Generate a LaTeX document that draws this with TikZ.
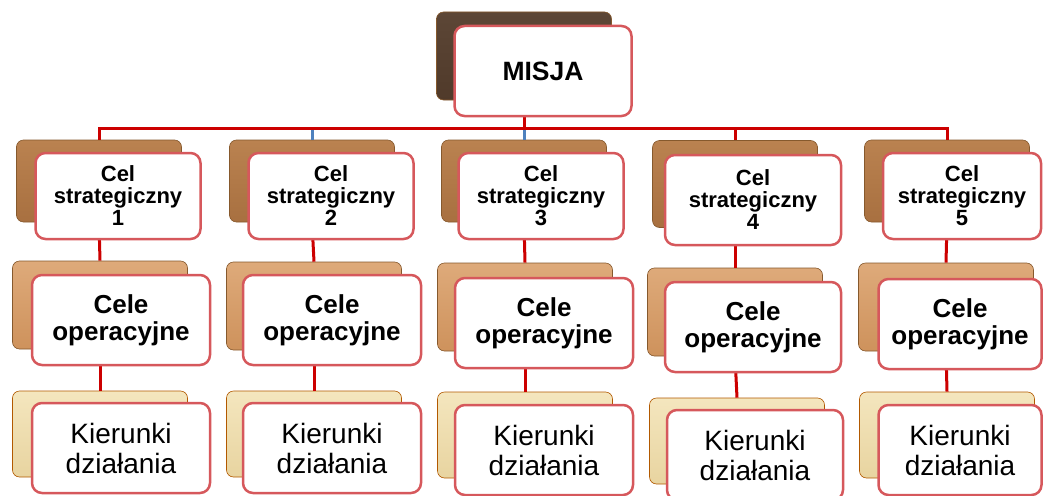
\documentclass[tikz,border=0pt]{standalone}
\usepackage{fontspec}
\setmainfont{Liberation Sans}
\usetikzlibrary{positioning,calc}

\definecolor{linkred}{RGB}{204,0,0}
\definecolor{cardred}{RGB}{214,88,92}
\definecolor{linkblue}{RGB}{79,129,189}

\begin{document}
\begin{tikzpicture}[x=1pt,y=-1pt,
  wood/.style={rounded corners=7pt,draw=#1!70!black,line width=0.6pt},
  woodA/.style={wood=brown,top color={rgb,255:red,92;green,70;blue,54},middle color={rgb,255:red,58;green,40;blue,30},bottom color={rgb,255:red,80;green,58;blue,42},minimum width=175pt,minimum height=88pt},
  woodB/.style={wood=brown,top color={rgb,255:red,186;green,130;blue,80},middle color={rgb,255:red,130;green,82;blue,46},bottom color={rgb,255:red,168;green,112;blue,64},minimum width=165pt,minimum height=82pt},
  woodC/.style={wood=brown,top color={rgb,255:red,222;green,170;blue,122},middle color={rgb,255:red,184;green,124;blue,74},bottom color={rgb,255:red,206;green,146;blue,92},minimum width=175pt,minimum height=88pt},
  woodD/.style={wood=orange,top color={rgb,255:red,244;green,230;blue,190},middle color={rgb,255:red,218;green,192;blue,136},bottom color={rgb,255:red,232;green,212;blue,160},minimum width=175pt,minimum height=86pt},
  card/.style={draw=cardred,line width=2.5pt,fill=white,rounded corners=10pt,align=center,inner sep=0pt},
  cslev/.style={card,minimum width=165pt,minimum height=86pt,font={\fontsize{22pt}{22pt}\selectfont\bfseries}},
  colev/.style={card,minimum width=178pt,minimum height=90pt,font={\fontsize{26pt}{27pt}\selectfont\bfseries}},
  kdlev/.style={card,minimum width=178pt,minimum height=90pt,font={\fontsize{28pt}{30pt}\selectfont}},
  link/.style={draw=linkred,line width=3pt},
  bluelink/.style={draw=linkblue,line width=3pt}]
\useasboundingbox (0,0) rectangle (1043,495);

% wooden plates behind the cards
\node[woodA] (misjaS) at (524,56) {};
\node[woodB] (cs1S) at (99,181) {};
\node[woodB] (cs2S) at (312,181) {};
\node[woodB] (cs3S) at (524,181) {};
\node[woodB,minimum height=87pt] (cs4S) at (735,184) {};
\node[woodB] (cs5S) at (947,181) {};
\node[woodC] (co1S) at (100,305) {};
\node[woodC] (co2S) at (314,306) {};
\node[woodC] (co3S) at (525,307) {};
\node[woodC] (co4S) at (735,312) {};
\node[woodC] (co5S) at (946,307) {};
\node[woodD] (kd1S) at (100,434) {};
\node[woodD] (kd2S) at (314,434) {};
\node[woodD] (kd3S) at (525,435) {};
\node[woodD] (kd4S) at (737,441) {};
\node[woodD] (kd5S) at (947,435) {};

% connectors
\coordinate (bar) at (524,128);
\draw[bluelink] (bar) -- (cs3S.north);
\draw[bluelink] (bar -| cs2S.north) -- (cs2S.north);
\draw[link] (misjaS.south) -- (bar);
\draw[link] (bar) -| (cs1S.north);
\draw[link] (bar) -| (cs4S.north);
\draw[link] (bar) -| (cs5S.north);
\draw[link] (cs1S.south) -- (co1S.north);
\draw[link] (cs2S.south) -- (co2S.north);
\draw[link] (cs3S.south) -- (co3S.north);
\draw[link] (cs4S.south) -- (co4S.north);
\draw[link] (cs5S.south) -- (co5S.north);
\draw[link] (co1S.south) -- (kd1S.north);
\draw[link] (co2S.south) -- (kd2S.north);
\draw[link] (co3S.south) -- (kd3S.north);
\draw[link] (co4S.south) -- (kd4S.north);
\draw[link] (co5S.south) -- (kd5S.north);

% cards
\node[card,minimum width=177pt,minimum height=90pt,font={\fontsize{26.5pt}{27pt}\selectfont\bfseries}] (misja) at (543,71) {MISJA};
\node[cslev] (cs1) at (118,196) {Cel\\strategiczny\\1};
\node[cslev] (cs2) at (331,196) {Cel\\strategiczny\\2};
\node[cslev] (cs3) at (541,196) {Cel\\strategiczny\\3};
\node[cslev,minimum width=176pt,minimum height=90pt] (cs4) at (753,200) {Cel\\strategiczny\\4};
\node[cslev,minimum width=158pt] (cs5) at (962,196) {Cel\\strategiczny\\5};
\node[colev] (co1) at (121,320) {Cele\\operacyjne};
\node[colev] (co2) at (332,320) {Cele\\operacyjne};
\node[colev] (co3) at (544,323) {Cele\\operacyjne};
\node[colev,minimum width=176pt] (co4) at (753,327) {Cele\\operacyjne};
\node[colev,minimum width=163pt] (co5) at (960,324) {Cele\\operacyjne};
\node[kdlev] (kd1) at (121,448) {Kierunki\\działania};
\node[kdlev] (kd2) at (332,448) {Kierunki\\działania};
\node[kdlev] (kd3) at (544,450) {Kierunki\\działania};
\node[kdlev,minimum width=176pt] (kd4) at (755,455) {Kierunki\\działania};
\node[kdlev,minimum width=163pt] (kd5) at (960,450) {Kierunki\\działania};
\end{tikzpicture}
\end{document}
